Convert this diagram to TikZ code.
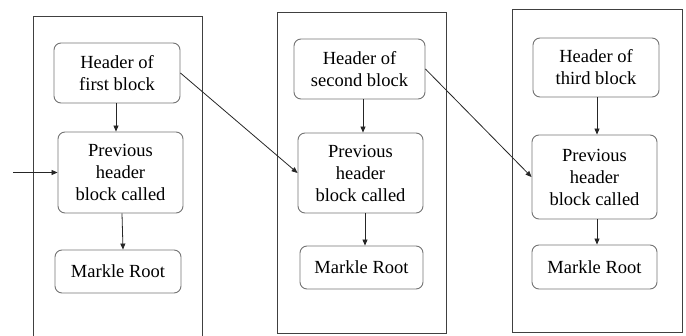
\documentclass[tikz,border=0pt]{standalone}
\usepackage{fontspec}
\setmainfont{Liberation Serif}
\usetikzlibrary{arrows.meta,calc}
\begin{document}
\begin{tikzpicture}[x=1pt,y=-1pt,
  box/.style={draw=black!55,line width=0.9pt,rounded corners=7pt,align=center,
    inner sep=0pt,text=black,font=\fontsize{18.5}{22}\selectfont},
  outer/.style={draw=black!75,line width=0.9pt},
  conn/.style={draw=black!85,line width=0.8pt,-{Triangle[length=6pt,width=5pt]}}]
\useasboundingbox (0,0) rectangle (686,335);
% outer block frames
\draw[outer] (33,345) -- (33,16) -- (202,16) -- (202,345);
\draw[outer] (277,12) rectangle (446,333);
\draw[outer] (512,9) rectangle (682,332);
% block 1
\node[box,minimum width=126pt,minimum height=60pt] (h1) at (117,73) {Header of\\first block};
\node[box,minimum width=125pt,minimum height=81pt] (p1) at (120.5,172.5) {Previous\\header\\block called};
\node[box,minimum width=126pt,minimum height=43pt] (m1) at (118,271.5) {Markle Root};
% block 2
\node[box,minimum width=131pt,minimum height=60pt] (h2) at (359.5,69) {Header of\\second block};
\node[box,minimum width=125pt,minimum height=80pt] (p2) at (360.5,173) {Previous\\header\\block called};
\node[box,minimum width=123pt,minimum height=43pt] (m2) at (361.5,267.5) {Markle Root};
% block 3
\node[box,minimum width=126pt,minimum height=59pt] (h3) at (596,67.5) {Header of\\third block};
\node[box,minimum width=125pt,minimum height=84pt] (p3) at (594.5,177) {Previous\\header\\block called};
\node[box,minimum width=125pt,minimum height=44pt] (m3) at (594.5,267) {Markle Root};
\coordinate (in) at (13,172.5);
% connectors
\draw[conn] ($(h1.south)+(-1,0)$) -- ($(p1.north)+(-4.5,0)$);
\draw[conn] ($(p1.south)+(1.5,0)$) -- ($(m1.north)+(5,0)$);
\draw[conn] (in) -- (p1.west);
\draw[conn] (h1.east) -- (p2.west);
\draw[conn] ($(h2.south)+(3.5,0)$) -- ($(p2.north)+(2.5,0)$);
\draw[conn] ($(p2.south)+(4.5,0)$) -- ($(m2.north)+(3.5,0)$);
\draw[conn] (h2.east) -- (p3.west);
\draw[conn] ($(h3.south)+(1,0)$) -- ($(p3.north)+(2.5,0)$);
\draw[conn] ($(p3.south)+(2.5,0)$) -- ($(m3.north)+(2.5,0)$);
\end{tikzpicture}
\end{document}
